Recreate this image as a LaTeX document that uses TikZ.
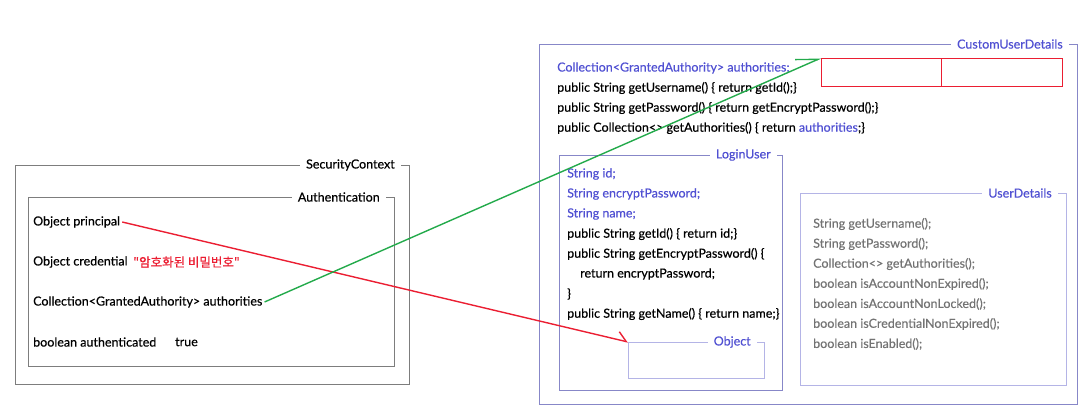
\documentclass[tikz,border=0pt]{standalone}
\usepackage{fontspec}
\setmainfont{Lato}[FakeBold=0.4]
\newfontfamily\krfont{Noto Sans CJK KR}[FakeBold=0.4]
\usetikzlibrary{arrows.meta}

\definecolor{codeblue}{RGB}{80,80,210}
\definecolor{boxline}{RGB}{135,135,200}
\definecolor{lightline}{RGB}{180,180,230}
\definecolor{frameGray}{RGB}{125,125,125}
\definecolor{linkred}{RGB}{235,30,50}
\definecolor{linkgreen}{RGB}{35,170,75}
\definecolor{textgray}{RGB}{115,115,115}

\begin{document}
\begin{tikzpicture}[
            x=1pt, y=-1pt, % one unit = one pixel of the sketch, y down
            every node/.style={font=\fontsize{12.5}{14}\selectfont},
            frame/.style={draw=#1, line width=0.9pt, rectangle, inner sep=0pt, anchor=north west},
            tag/.style={fill=white, inner xsep=6pt, inner ysep=1pt, anchor=east},
            code/.style={anchor=west, inner sep=2pt},
            link/.style={line width=1.4pt}
        ]

            \useasboundingbox (0,0) rectangle (1086,413);

            % 1. SecurityContext with its Authentication
            \node[frame=frameGray, minimum width=394pt, minimum height=219pt] (secctx) at (15,165) {};
            \node[tag] at ([xshift=-9pt]secctx.north east) {SecurityContext};
            \node[frame=frameGray, minimum width=366pt, minimum height=169pt] (auth) at (28,197) {};
            \node[tag] at ([xshift=-9pt]auth.north east) {Authentication};

            \node[code] (principal) at (31,222) {Object principal};
            \node[code] (credential) at (31,262) {Object credential};
            \node[code, text=linkred] (cipher) at (131,262) {\krfont "암호화된 비밀번호"};
            \node[code] (authorities) at (31,302) {Collection<GrantedAuthority> authorities};
            \node[code] (authenticated) at (31,342) {boolean authenticated};
            \node[code] (flag) at (173,342) {true};

            % 2. CustomUserDetails
            \node[frame=boxline, minimum width=538pt, minimum height=360pt] (custom) at (539,44) {};
            \node[tag, text=codeblue] at ([xshift=-9pt]custom.north east) {CustomUserDetails};

            \node[frame=linkred, line width=1.2pt, minimum width=120pt, minimum height=28pt] (slotA) at (821,58) {};
            \node[frame=linkred, line width=1.2pt, minimum width=121pt, minimum height=28pt] (slotB) at (941,58) {};

            \node[code, text=codeblue] (cfield) at (555,68) {Collection<GrantedAuthority> authorities;};
            \node[code] (cline1) at (555,88) {public String getUsername() \{ return getId();\}};
            \node[code] (cline2) at (555,108) {public String getPassword() \{ return getEncryptPassword();\}};
            \node[code] (cline3) at (555,128) {public Collection<> getAuthorities() \{ return \textcolor{codeblue}{authorities};\}};

            % 3. LoginUser inside, with the Object slot
            \node[frame=boxline, minimum width=223pt, minimum height=235pt] (login) at (559,155) {};
            \node[tag, text=codeblue] at ([xshift=-6pt]login.north east) {LoginUser};

            \node[code, text=codeblue] (lfield1) at (565,174) {String id;};
            \node[code, text=codeblue] (lfield2) at (565,194) {String encryptPassword;};
            \node[code, text=codeblue] (lfield3) at (565,214) {String name;};
            \node[code] (lline1) at (565,234) {public String getId() \{ return id;\}};
            \node[code] (lline2) at (565,254) {public String getEncryptPassword() \{};
            \node[code] (lline3) at (578,274) {return encryptPassword;};
            \node[code] (lline4) at (565,294) {\}};
            \node[code] (lline5) at (565,314) {public String getName() \{ return name;\}};

            \node[frame=lightline, minimum width=136pt, minimum height=36pt] (objbox) at (628,342) {};
            \node[tag, text=codeblue] at ([xshift=-8pt]objbox.north east) {Object};

            % 4. UserDetails interface
            \node[frame=lightline, minimum width=266pt, minimum height=192pt] (userdet) at (800,193) {};
            \node[tag, text=codeblue] at ([xshift=-9pt]userdet.north east) {UserDetails};

            \foreach \sig [count=\i] in {String getUsername();, String getPassword();,
                Collection<> getAuthorities();, boolean isAccountNonExpired();,
                boolean isAccountNonLocked();, boolean isCredentialNonExpired();,
                boolean isEnabled();}
                \node[code, text=textgray] (usig\i) at (811,204+20*\i) {\sig};

            % 5. Links (half barbs)
            \draw[link, linkred, -{Straight Barb[left, length=9pt, width=16pt]}]
                (principal.east) -- (objbox.north west);
            \draw[link, linkgreen, -{Straight Barb[left, length=21pt, width=18pt]}]
                (authorities.east) -- (slotA.north west);

        \end{tikzpicture}
\end{document}
